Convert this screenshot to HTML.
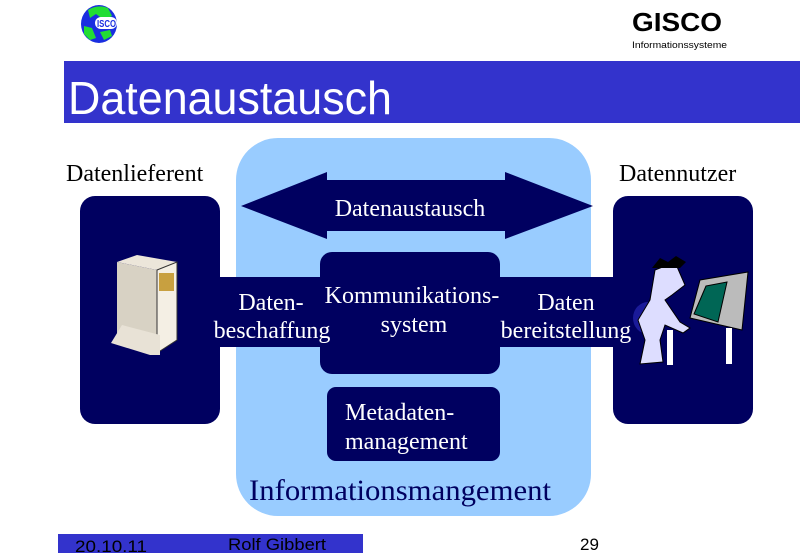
<!DOCTYPE html>
<html><head><meta charset="utf-8"><style>
html,body{margin:0;padding:0;background:#fff;width:800px;height:553px;overflow:hidden}
svg{display:block}
.s{font-family:"Liberation Serif",serif}
.a{font-family:"Liberation Sans",sans-serif}
</style></head><body>
<svg width="800" height="553" viewBox="0 0 800 553">
<!-- logo -->
<ellipse cx="99" cy="24" rx="18" ry="19" fill="#1a2ee0"/>
<path d="M88 10 Q98 4 108 8 L112 16 L104 20 L96 14 L90 18 Z" fill="#22dd33"/>
<path d="M84 26 L92 28 L96 38 L90 40 L84 34 Z" fill="#22dd33"/>
<path d="M100 32 L110 30 L112 36 L104 40 Z" fill="#22dd33"/>
<rect x="95" y="17" width="22" height="12" rx="6" fill="#fff"/>
<text x="97" y="27" class="a" font-size="10" font-weight="bold" fill="#1a2ee0" textLength="19" lengthAdjust="spacingAndGlyphs">ISCO</text>
<!-- GISCO -->
<text x="632" y="31" class="a" font-size="26" font-weight="bold" fill="#000" textLength="90" lengthAdjust="spacingAndGlyphs">GISCO</text>
<text x="632" y="48" class="a" font-size="9" fill="#000" textLength="95" lengthAdjust="spacingAndGlyphs">Informationssysteme</text>
<!-- title band -->
<rect x="64" y="61" width="736" height="62" fill="#3333cc"/>
<text x="68" y="114" class="a" font-size="46" fill="#fff" textLength="324" lengthAdjust="spacingAndGlyphs">Datenaustausch</text>
<!-- panel -->
<rect x="236" y="138" width="355" height="378" rx="42" fill="#99ccff"/>
<!-- side boxes -->
<rect x="80" y="196" width="140" height="228" rx="15" fill="#000060"/>
<rect x="613" y="196" width="140" height="228" rx="15" fill="#000060"/>
<!-- connectors -->
<rect x="218" y="277" width="110" height="70" fill="#000060"/>
<rect x="495" y="277" width="120" height="70" fill="#000060"/>
<!-- arrow -->
<polygon points="241,206 327,172 327,180 505,180 505,172 593,206 505,239 505,231 327,231 327,239" fill="#000060"/>
<text x="410" y="216" class="s" font-size="24" fill="#fff" text-anchor="middle">Datenaustausch</text>
<!-- Kommunikation -->
<rect x="320" y="252" width="180" height="122" rx="12" fill="#000060"/>
<text x="412" y="303" class="s" font-size="24" fill="#fff" text-anchor="middle">Kommunikations-</text>
<text x="414" y="332" class="s" font-size="24" fill="#fff" text-anchor="middle">system</text>
<text x="271" y="310" class="s" font-size="24" fill="#fff" text-anchor="middle">Daten-</text>
<text x="272" y="338" class="s" font-size="24" fill="#fff" text-anchor="middle">beschaffung</text>
<text x="566" y="310" class="s" font-size="24" fill="#fff" text-anchor="middle">Daten</text>
<text x="566" y="338" class="s" font-size="24" fill="#fff" text-anchor="middle">bereitstellung</text>
<!-- Metadaten -->
<rect x="327" y="387" width="173" height="74" rx="9" fill="#000060"/>
<text x="345" y="420" class="s" font-size="24" fill="#fff">Metadaten-</text>
<text x="345" y="449" class="s" font-size="24" fill="#fff">management</text>
<text x="249" y="500" class="s" font-size="30" fill="#000060" textLength="302" lengthAdjust="spacingAndGlyphs">Informationsmangement</text>
<!-- labels -->
<text x="66" y="181" class="s" font-size="24" fill="#000">Datenlieferent</text>
<text x="619" y="181" class="s" font-size="24" fill="#000">Datennutzer</text>
<!-- server -->
<polygon points="117,262 137,255 177,262 157,270" fill="#ece6da"/>
<polygon points="117,262 157,270 157,353 117,340" fill="#d8d2c4"/>
<polygon points="157,270 177,262 177,340 157,353" fill="#f4efe4" stroke="#333" stroke-width="1"/>
<polygon points="111,343 122,325 160,335 160,355 150,355" fill="#e8e2d6"/>
<rect x="159" y="273" width="15" height="18" fill="#c8a040"/>
<!-- person at computer -->
<polygon points="700,280 748,272 742,330 690,318" fill="#bbbbbb" stroke="#000" stroke-width="1"/>
<polygon points="706,286 727,282 718,322 694,314" fill="#006655" stroke="#000"/>
<rect x="667" y="330" width="6" height="35" fill="#fff"/>
<rect x="726" y="328" width="6" height="36" fill="#fff"/>
<ellipse cx="648" cy="318" rx="15" ry="16" fill="#1a1a99"/>
<path d="M655 270 L675 262 L685 285 L672 295 L665 300 L680 322 L690 328 L683 333 L665 325 L660 340 L663 362 L640 364 L645 340 L638 320 L650 300 Z" fill="#ddddff" stroke="#000" stroke-width="1"/>
<path d="M652 268 L660 258 L668 262 L676 256 L686 262 L680 268 Z" fill="#000"/>
<!-- footer -->
<rect x="58" y="534" width="305" height="19" fill="#3333cc"/>
<text x="75" y="552" class="a" font-size="17" fill="#000" textLength="72" lengthAdjust="spacingAndGlyphs">20.10.11</text>
<text x="228" y="550" class="a" font-size="17" fill="#000" textLength="98" lengthAdjust="spacingAndGlyphs">Rolf Gibbert</text>
<text x="580" y="550" class="a" font-size="17" fill="#000">29</text>
</svg>
</body></html>
